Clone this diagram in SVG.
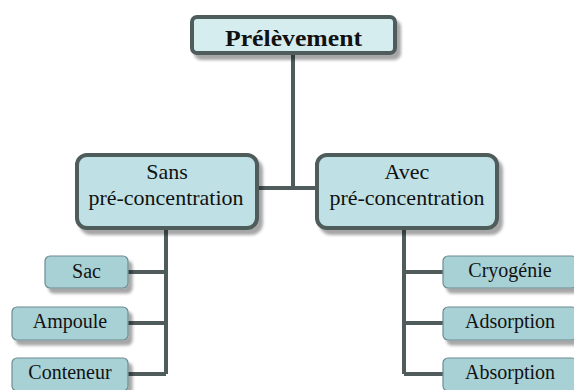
<svg xmlns="http://www.w3.org/2000/svg" width="574" height="390" viewBox="0 0 574 390">
<defs>
<filter id="sh" x="-10%" y="-20%" width="130%" height="160%">
<feDropShadow dx="4" dy="5" stdDeviation="1.5" flood-color="#000" flood-opacity="0.35"/>
</filter>
<style>
.top{fill:#d6edf0;stroke:#4f5b5c;stroke-width:4;filter:url(#sh)}
.mid{fill:#bfe1e5;stroke:#4f5b5c;stroke-width:4;filter:url(#sh)}
.leaf{fill:#a8d1d6;stroke:#6d8c90;stroke-width:1.2;filter:url(#sh)}
.c{fill:none;stroke:#505c5c;stroke-width:4}
.t{font-family:'Liberation Serif','DejaVu Serif','Times New Roman',serif;fill:#111;text-anchor:middle}
.tt{font-size:24px;font-weight:bold}
.mt{font-size:22px}
.lt{font-size:20px}
</style>
</defs>
<rect width="574" height="390" fill="#fff"/>
<g id="connectors">
<path class="c" d="M293 53V188M257 188H317"/>
<path class="c" d="M166 228V374M128 272H166M128 323H166M128 374H166"/>
<path class="c" d="M404 228V374M404 272H443M404 323H443M404 374H443"/>
</g>
<g id="n-prelevement">
<rect class="top" x="192" y="17" width="203" height="36" rx="5"/>
<text class="t tt" x="293.5" y="46" textLength="137" lengthAdjust="spacingAndGlyphs">Prélèvement</text>
</g>
<g id="n-sans">
<rect class="mid" x="77" y="155" width="180" height="73" rx="10"/>
<text class="t mt" x="167" y="179">Sans</text>
<text class="t mt" x="166" y="205">pré-concentration</text>
</g>
<g id="n-avec">
<rect class="mid" x="317" y="155" width="180" height="73" rx="10"/>
<text class="t mt" x="407" y="179">Avec</text>
<text class="t mt" x="407" y="205">pré-concentration</text>
</g>
<g id="n-sac">
<rect class="leaf" x="45" y="256" width="83" height="32" rx="5"/>
<text class="t lt" x="86.5" y="278">Sac</text>
</g>
<g id="n-ampoule">
<rect class="leaf" x="12" y="307" width="116" height="33" rx="5"/>
<text class="t lt" x="70" y="328">Ampoule</text>
</g>
<g id="n-conteneur">
<rect class="leaf" x="12" y="358" width="116" height="33" rx="5"/>
<text class="t lt" x="70" y="379">Conteneur</text>
</g>
<g id="n-cryogenie">
<rect class="leaf" x="443" y="256" width="134" height="32" rx="5"/>
<text class="t lt" x="510" y="277">Cryogénie</text>
</g>
<g id="n-adsorption">
<rect class="leaf" x="443" y="307" width="134" height="33" rx="5"/>
<text class="t lt" x="510" y="328">Adsorption</text>
</g>
<g id="n-absorption">
<rect class="leaf" x="443" y="358" width="134" height="33" rx="5"/>
<text class="t lt" x="510" y="379">Absorption</text>
</g>
</svg>
